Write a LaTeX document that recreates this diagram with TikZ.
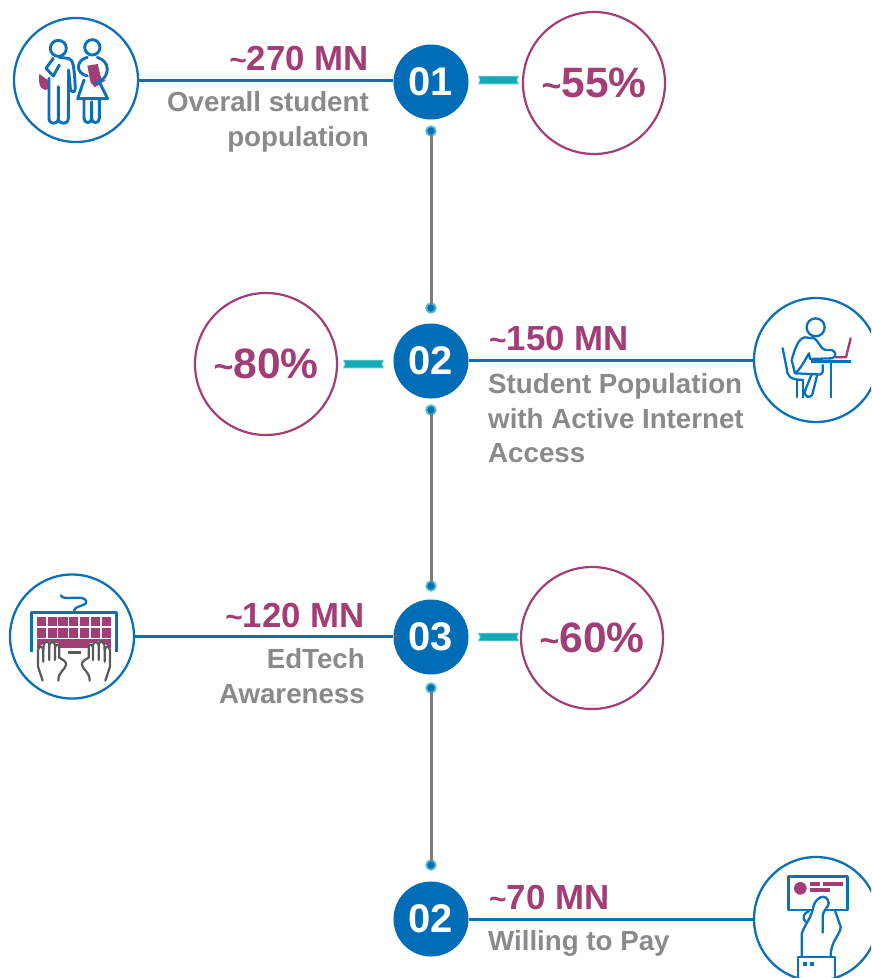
\documentclass[tikz,border=0pt]{standalone}
\usepackage{fontspec}
\setmainfont{Liberation Sans}
\definecolor{bl}{HTML}{0A70B8}
\definecolor{blue2}{HTML}{006DB6}
\definecolor{mg}{HTML}{A23D75}
\definecolor{gy}{HTML}{8A8A8A}
\definecolor{tl}{HTML}{12AAB5}
\definecolor{dk}{HTML}{58595B}
\newcommand{\tldb}{{\fontsize{30}{30}\selectfont\textasciitilde}}
\newcommand{\tldp}{{\fontsize{34}{34}\selectfont\textasciitilde}}
\begin{document}
\begin{tikzpicture}[x=1pt,y=-1pt,
  numc/.style={circle,fill=blue2,text=white,minimum size=75pt,inner sep=0pt,font=\fontsize{40}{40}\selectfont\bfseries},
  pct/.style={circle,draw=mg,line width=2.2pt,minimum size=142pt,inner sep=0pt,text=mg,font=\fontsize{42.5}{42.5}\selectfont\bfseries},
  icon/.style={circle,draw=bl,line width=2.3pt,minimum size=124pt,inner sep=0pt},
  dotn/.style={circle,fill=blue2,draw=tl!75,line width=1.8pt,minimum size=9.5pt,inner sep=0pt},
  hline/.style={draw=bl,line width=3pt},
  vline/.style={draw=gy!90!black,line width=3pt,shorten >=-1.5pt,shorten <=-1.5pt},
  big/.style={text=mg,font=\fontsize{34.8}{34.8}\selectfont\bfseries,inner sep=0pt},
  small/.style={text=gy,font=\fontsize{27.7}{27.7}\selectfont\bfseries,inner sep=0pt},
  ic/.style={draw=bl,line width=2.3pt,line join=round,line cap=round},
  icb/.style={draw=bl,line width=2.9pt,line join=round,line cap=round},
  handl/.style={draw=dk,line width=2.2pt,line join=round,line cap=round}]
\useasboundingbox (0,0) rectangle (871,978);
\clip (0,0) rectangle (871,978);
% circles
\node[numc] (n1) at (431,82) {01};
\node[numc] (n2) at (431,361) {02};
\node[numc] (n3) at (431,637) {03};
\node[numc] (n4) at (431,919) {02};
\node[pct] (p1) at (594,83) {\tldp 55\%};
\node[pct] (p2) at (266,364) {\tldp 80\%};
\node[pct] (p3) at (592,638) {\tldp 60\%};
\node[icon] (i1) at (76,80) {};
\node[icon] (i2) at (816,360) {};
\node[icon] (i3) at (72,636.5) {};
\node[icon] (i4) at (816,919) {};
\node[dotn] (d1) at (431,131) {};
\node[dotn] (d2) at (431,308) {};
\node[dotn] (d3) at (431,410) {};
\node[dotn] (d4) at (431,586) {};
\node[dotn] (d5) at (431,688) {};
\node[dotn] (d6) at (431,865) {};
% connectors
\draw[vline] (d1) -- (d2);
\draw[vline] (d3) -- (d4);
\draw[vline] (d5) -- (d6);
\draw[hline] (i1.east) -- (i1.east -| n1.west);
\draw[hline] (i2.west) -- (i2.west -| n2.east);
\draw[hline] (i3.east) -- (i3.east -| n3.west);
\draw[hline] (i4.west) -- (i4.west -| n4.east);
% ribbons
\foreach \x/\y in {478/80,343/364,478/637}{
 \fill[tl,draw=tl!35,line width=.8pt] (\x,\y-4) -- (\x+41,\y-4) -- (\x+39,\y) -- (\x+41,\y+4) -- (\x,\y+4) -- (\x+2,\y) -- cycle;
}
% labels
\node[big,anchor=base east] (t1) at (369,70) {\tldb 270 MN};
\node[small,anchor=base east] (t1a) at (369,111) {Overall student};
\node[small,anchor=base east] (t1b) at (369,146) {population};
\node[big,anchor=base west] (t2) at (489,350) {\tldb 150 MN};
\node[small,anchor=base west] (t2a) at (488,393) {Student Population};
\node[small,anchor=base west] (t2b) at (488,428) {with Active Internet};
\node[small,anchor=base west] (t2c) at (488,462) {Access};
\node[big,anchor=base east] (t3) at (365,627) {\tldb 120 MN};
\node[small,anchor=base east] (t3a) at (365,668) {EdTech};
\node[small,anchor=base east] (t3b) at (365,703) {Awareness};
\node[big,anchor=base west] (t4) at (489,909) {\tldb 70 MN};
\node[small,anchor=base west] (t4a) at (488,950) {Willing to Pay};
% icon 1: students
\begin{scope}[x=.3333pt,y=-.3333pt]
\fill[mg] (118,222) -- (140,238) -- (148,240) -- (148,265) .. controls (128,278) and (113,262) .. (118,222) -- cycle;
\draw[icb] (175,145) circle[radius=24];
\draw[icb] (160,175) -- (138,205) -- (160,228) -- (178,195);
\draw[icb] (178,172) -- (205,175) .. controls (220,180) and (222,195) .. (226,265) .. controls (226,280) and (212,278) .. (211,265) -- (206,210) -- (205,355) .. controls (205,375) and (175,375) .. (175,355) -- (175,260) -- (175,355) .. controls (175,375) and (147,375) .. (147,355) -- (147,235);
\draw[icb] (277,142) circle[radius=23];
\fill[mg] (262,197) -- (293,192) -- (305,240) -- (318,240) -- (285,262) -- (272,248) -- cycle;
\draw[icb] (262,172) .. controls (228,180) and (225,220) .. (262,228);
\draw[icb] (292,172) .. controls (332,185) and (327,225) .. (305,240) -- (285,250);
\draw[icb] (252,240) -- (233,296) -- (323,296) -- (300,250);
\draw[icb] (252,296) -- (252,355) .. controls (252,372) and (275,372) .. (275,355) -- (275,305) -- (275,355) .. controls (275,372) and (298,372) .. (298,355) -- (298,296);
\end{scope}
% icon 2: student at laptop
\begin{scope}[shift={(740,285)},x=.3333pt,y=-.3333pt]
\draw[ic] (227,127) circle[radius=27];
\draw[mg,line width=2.3pt,line cap=round,line join=round] (288,217) -- (318,217) -- (332,160);
\draw[ic] (165,265) -- (155,225) .. controls (165,190) and (175,160) .. (195,157) -- (222,160) .. controls (235,165) and (240,190) .. (255,195) -- (275,195) .. controls (290,200) and (290,218) .. (275,220) -- (210,222) -- (207,205) .. controls (195,225) and (180,255) .. (165,265) -- (230,268) .. controls (250,272) and (250,260) .. (248,240);
\draw[ic] (232,268) -- (218,325) .. controls (212,345) and (188,335) .. (196,315) -- (215,268);
\draw[ic] (128,190) -- (140,250) .. controls (142,275) and (150,284) .. (190,285);
\draw[ic] (172,285) -- (172,337);
\draw[ic] (190,285) -- (190,337);
\draw[bl,line width=3pt] (212,231) -- (332,231);
\draw[ic] (272,232) -- (272,337);
\end{scope}
% icon 3: keyboard
\begin{scope}[shift={(0,565)},x=.3333pt,y=-.3333pt]
\draw[ic,line cap=butt,line width=2.4pt] (95,262) -- (95,142) -- (350,142) -- (350,262);
\draw[ic] (183,91) .. controls (185,110) and (255,85) .. (259,110) .. controls (259,125) and (220,120) .. (222,142);
\foreach \a/\b in {111/139,143/171,174/203,207/235,240/268,273/301,306/334}{
 \fill[mg] (\a,155) rectangle (\b,184);
 \fill[mg] (\a,188) rectangle (\b,218);
}
\fill[mg] (110,222) rectangle (334,250);
\foreach \m in {1,-1}{
 \begin{scope}[shift={(222,0)},x={(\m*.3333pt,0pt)}]
 \fill[white] (-94,347) -- (-109,305) -- (-109,250) -- (-82,228) -- (-47,235) -- (-44,275) -- (-24,295) -- (-47,347) -- cycle;
 \draw[handl] (-94,347) -- (-108,305) -- (-108,255) .. controls (-106,242) and (-94,242) .. (-92,255) -- (-92,290);
 \draw[handl] (-92,255) -- (-91,240) .. controls (-87,226) and (-76,226) .. (-74,240) -- (-74,285);
 \draw[handl] (-74,240) .. controls (-70,228) and (-59,228) .. (-57,240) -- (-57,285);
 \draw[handl] (-57,245) .. controls (-52,235) and (-44,238) .. (-44,250) -- (-44,278) .. controls (-32,285) and (-22,290) .. (-24,300) .. controls (-27,315) and (-47,320) .. (-47,347);
 \end{scope}
}
\draw[dk,line width=2.4pt] (203,262) -- (243,262);
\end{scope}
% icon 4: hand and card
\begin{scope}[shift={(740,845)},x=.3333pt,y=-.3333pt]
\draw[ic,line cap=butt,line width=2.6pt,fill=white] (145,95) rectangle (323,195);
\fill[mg] (181,130) circle[radius=19];
\fill[mg] (210,112) rectangle (240,122);
\fill[mg] (250,112) rectangle (308,122);
\fill[mg] (210,130) rectangle (270,140);
\draw[ic,fill=white] (185,335) -- (185,268) .. controls (190,245) and (210,225) .. (218,195) .. controls (222,155) and (262,140) .. (266,175) .. controls (266,185) and (250,195) .. (248,212) -- (248,263);
\draw[ic] (207,198) .. controls (190,205) and (185,220) .. (197,230);
\draw[ic] (285,197) -- (302,245) .. controls (302,270) and (272,285) .. (272,335);
\draw[ic] (175,400) -- (175,336) -- (285,336) -- (285,400);
\fill[bl] (190,351) rectangle (202,363);
\fill[bl] (210,351) rectangle (222,363);
\end{scope}
\end{tikzpicture}
\end{document}
